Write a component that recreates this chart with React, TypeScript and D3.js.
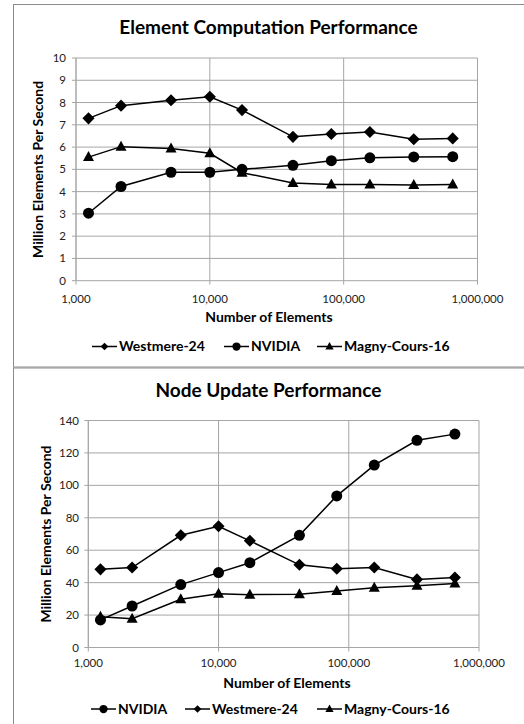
import React from "react";
import * as d3 from "d3";

// Mesh sizes (number of elements) used in both benchmarks
const elementCounts = [1240, 2170, 5130, 10000, 17400, 41800, 80900, 157000, 334000, 653000];

// Element computation rates (million elements per second)
const elemWestmere = [7.29, 7.86, 8.1, 8.26, 7.66, 6.46, 6.59, 6.68, 6.35, 6.39];
const elemNvidia = [3.03, 4.23, 4.87, 4.87, 5.0, 5.18, 5.39, 5.52, 5.56, 5.57];
const elemMagny = [5.55, 6.02, 5.94, 5.72, 4.85, 4.39, 4.32, 4.32, 4.3, 4.32];

// Node update rates (million elements per second)
const nodeNvidia = [17, 25.6, 38.8, 46.2, 52.3, 69.2, 93.5, 112.5, 127.8, 131.6];
const nodeWestmere = [48.2, 49.3, 69.2, 74.8, 65.8, 51.0, 48.6, 49.3, 42.0, 43.2];
const nodeMagny = [19.0, 17.8, 29.8, 33.2, 32.6, 32.8, 34.8, 36.8, 38.1, 39.4];

const xTicks = [1000, 10000, 100000, 1000000];
const elemYTicks = [0, 1, 2, 3, 4, 5, 6, 7, 8, 9, 10];
const nodeYTicks = [0, 20, 40, 60, 80, 100, 120, 140];

type Marker = "diamond" | "circle" | "triangle";
type Series = { name: string; values: number[]; marker: Marker };

const FONT = "Lato, 'Open Sans', sans-serif";
const GRID = "#a6a6a6";
const BORDER = "#8c8c8c";

function MarkerShape({ kind, x, y, s }: { kind: Marker; x: number; y: number; s: number }) {
  if (kind === "circle") return <circle cx={x} cy={y} r={s * 0.55} fill="#000" />;
  if (kind === "diamond") {
    const r = s * 0.55;
    return <path d={`M${x},${y - r}L${x + r},${y}L${x},${y + r}L${x - r},${y}Z`} fill="#000" />;
  }
  const h = s * 1.0;
  const w = s * 1.1;
  return (
    <path d={`M${x},${y - h * 0.6}L${x + w / 2},${y + h * 0.4}L${x - w / 2},${y + h * 0.4}Z`} fill="#000" />
  );
}

type PanelProps = {
  title: string;
  titleX: number;
  boxTop: number;
  boxBottom: number;
  titleY: number;
  plot: { left: number; right: number; top: number; bottom: number };
  yMax: number;
  yTicks: number[];
  yTickX: number;
  yTitleX: number;
  xTickY: number;
  xTitleX: number;
  xTitleY: number;
  legendY: number;
  legendX: number[];
  series: Series[];
};

function Panel(p: PanelProps) {
  const x = d3.scaleLog().domain([1000, 1000000]).range([p.plot.left, p.plot.right]);
  const y = d3.scaleLinear().domain([0, p.yMax]).range([p.plot.bottom, p.plot.top]);
  const line = d3
    .line<[number, number]>()
    .x((d) => x(d[0]))
    .y((d) => y(d[1]));
  const fmt = d3.format(",");
  const yMid = (p.plot.top + p.plot.bottom) / 2;
  return (
    <g>
      <rect x={13.5} y={p.boxTop + 0.5} width={530} height={p.boxBottom - p.boxTop} fill="#fff" stroke={BORDER} />
      <text
        x={p.titleX}
        y={p.titleY}
        textAnchor="middle"
        fontFamily={FONT}
        fontWeight="bold"
        fontSize={19}
        fill="#000"
      >
        {p.title}
      </text>
      {/* horizontal gridlines */}
      {p.yTicks.map((t) => (
        <line key={"h" + t} x1={p.plot.left} x2={p.plot.right} y1={y(t)} y2={y(t)} stroke={GRID} strokeWidth={1} />
      ))}
      {/* vertical gridlines at decades */}
      {xTicks.map((t) => (
        <line key={"v" + t} x1={x(t)} x2={x(t)} y1={p.plot.top} y2={p.plot.bottom + 4} stroke={GRID} strokeWidth={1} />
      ))}
      {/* y axis with outward ticks */}
      <line x1={p.plot.left} x2={p.plot.left} y1={p.plot.top} y2={p.plot.bottom} stroke={GRID} />
      {p.yTicks.map((t) => (
        <line key={"yt" + t} x1={p.plot.left - 4} x2={p.plot.left} y1={y(t)} y2={y(t)} stroke={GRID} />
      ))}
      {p.yTicks.map((t) => (
        <text
          key={"yl" + t}
          x={p.yTickX}
          y={y(t)}
          dy="0.35em"
          textAnchor="end"
          fontFamily={FONT}
          fontSize={11.5}
          fill="#222"
        >
          {t}
        </text>
      ))}
      {xTicks.map((t) => (
        <text
          key={"xl" + t}
          x={x(t)}
          y={p.xTickY}
          dy="0.35em"
          textAnchor="middle"
          fontFamily={FONT}
          fontSize={11.5}
          fill="#222"
        >
          {fmt(t)}
        </text>
      ))}
      <text
        transform={`translate(${p.yTitleX},${yMid}) rotate(-90)`}
        textAnchor="middle"
        dy="0.35em"
        fontFamily={FONT}
        fontWeight="bold"
        fontSize={14}
        fill="#000"
      >
        Million Elements Per Second
      </text>
      <text
        x={p.xTitleX}
        y={p.xTitleY}
        dy="0.35em"
        textAnchor="middle"
        fontFamily={FONT}
        fontWeight="bold"
        fontSize={14}
        fill="#000"
      >
        Number of Elements
      </text>
      {/* series */}
      {p.series.map((s) => {
        const pts = elementCounts.map((n, i) => [n, s.values[i]] as [number, number]);
        return (
          <g key={s.name}>
            <path d={line(pts) ?? ""} fill="none" stroke="#000" strokeWidth={1.5} />
            {pts.map((d, i) => (
              <MarkerShape key={i} kind={s.marker} x={x(d[0])} y={y(d[1])} s={s.marker === "diamond" ? 11 : 10} />
            ))}
          </g>
        );
      })}
      {/* legend */}
      {p.series.map((s, i) => {
        const lx = p.legendX[i];
        return (
          <g key={"lg" + s.name}>
            <line x1={lx} x2={lx + 25} y1={p.legendY} y2={p.legendY} stroke="#000" strokeWidth={1.5} />
            <MarkerShape kind={s.marker} x={lx + 12.5} y={p.legendY} s={s.marker === "diamond" ? 7 : 7.5} />
            <text
              x={lx + 27}
              y={p.legendY}
              dy="0.35em"
              fontFamily={FONT}
              fontWeight="bold"
              fontSize={14}
              fill="#000"
            >
              {s.name}
            </text>
          </g>
        );
      })}
    </g>
  );
}

export default function App() {
  return (
    <svg
      width={524}
      height={724}
      style={{ position: "absolute", left: 0, top: 0, background: "#fff" }}
    >
      <Panel
        title="Element Computation Performance"
        titleX={268.5}
        boxTop={4}
        boxBottom={366.5}
        titleY={34}
        plot={{ left: 76, right: 477.5, top: 58, bottom: 280.7 }}
        yMax={10}
        yTicks={elemYTicks}
        yTickX={66}
        yTitleX={38}
        xTickY={299}
        xTitleX={269}
        xTitleY={317.5}
        legendY={346.5}
        legendX={[92, 224, 317]}
        series={[
          { name: "Westmere-24", values: elemWestmere, marker: "diamond" },
          { name: "NVIDIA", values: elemNvidia, marker: "circle" },
          { name: "Magny-Cours-16", values: elemMagny, marker: "triangle" },
        ]}
      />
      <Panel
        title="Node Update Performance"
        titleX={268.5}
        boxTop={367.5}
        boxBottom={740}
        titleY={397}
        plot={{ left: 88.3, right: 479, top: 420.5, bottom: 647.5 }}
        yMax={140}
        yTicks={nodeYTicks}
        yTickX={79}
        yTitleX={46.5}
        xTickY={663}
        xTitleX={287}
        xTitleY={683}
        legendY={709}
        legendX={[91, 185, 317]}
        series={[
          { name: "NVIDIA", values: nodeNvidia, marker: "circle" },
          { name: "Westmere-24", values: nodeWestmere, marker: "diamond" },
          { name: "Magny-Cours-16", values: nodeMagny, marker: "triangle" },
        ]}
      />
    </svg>
  );
}
